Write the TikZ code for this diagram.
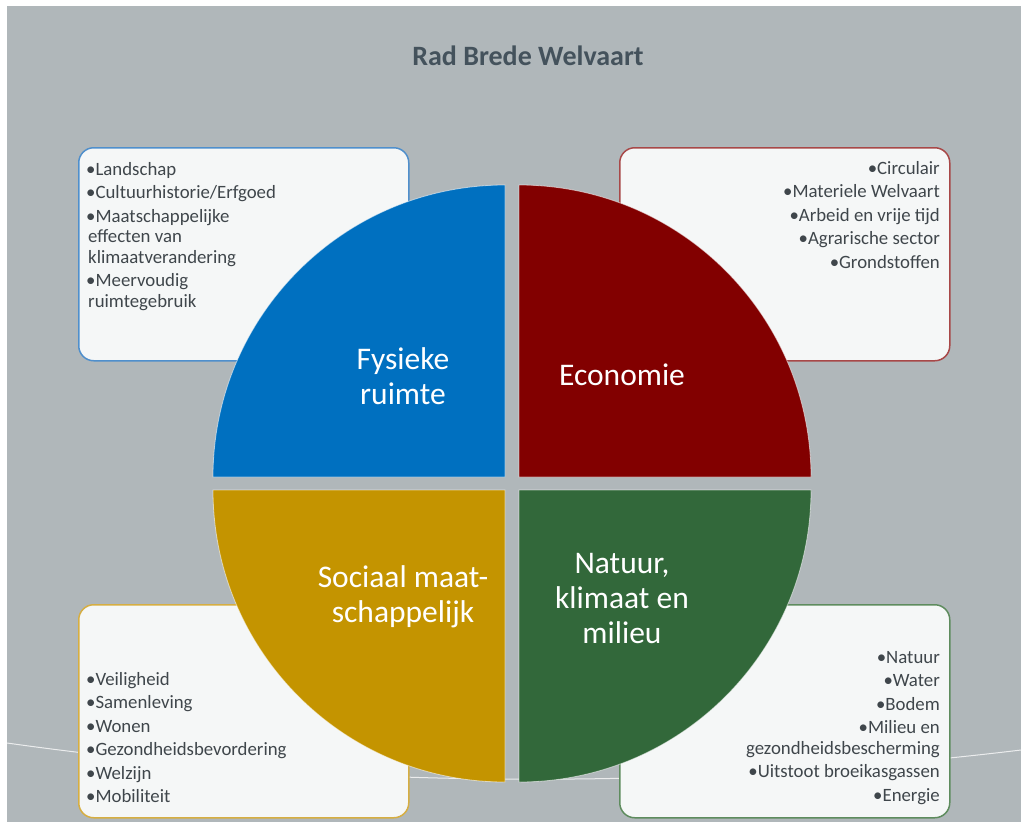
\documentclass[tikz,border=0pt]{standalone}
\usepackage{fontspec}
\setmainfont{Carlito}
\definecolor{bg}{HTML}{B0B7BA}
\definecolor{titlec}{HTML}{44525C}
\definecolor{boxfill}{HTML}{F5F7F7}
\definecolor{txt}{HTML}{3F464B}
\definecolor{qblue}{HTML}{0070C0}
\definecolor{qred}{HTML}{820000}
\definecolor{qgold}{HTML}{C49400}
\definecolor{qgreen}{HTML}{32683A}
\definecolor{bdblue}{HTML}{4F8FCC}
\definecolor{bdred}{HTML}{A84848}
\definecolor{bdgold}{HTML}{D6AE42}
\definecolor{bdgreen}{HTML}{5E8C5E}
\tikzset{
  infobox/.style={draw, fill=boxfill, line width=1.5pt, rounded corners=15pt,
    minimum width=330pt, minimum height=213pt, inner sep=0pt, anchor=north west},
  boxtext/.style={text=txt, inner sep=0pt, font=\fontsize{18.8}{23.5}\selectfont},
  quadlabel/.style={text=white, inner sep=0pt, align=center, font=\fontsize{31.5}{35}\selectfont},
  quadedge/.style={draw=white, draw opacity=0.55, line width=0.8pt}
}
\begin{document}
\begin{tikzpicture}[x=1pt,y=-1pt]
\useasboundingbox (0,0) rectangle (1024,827);
\fill[white] (0,0) rectangle (1024,827);
\fill[bg] (7,6) rectangle (1021,822);
% faint background arc
\draw[white, draw opacity=0.75, line width=1pt] (7,743) .. controls (340,790) and (690,790) .. (1021,750);
% title
\node[text=titlec, font=\bfseries\fontsize{28}{32}\selectfont] (title) at (528,56) {Rad Brede Welvaart};
% boxes
\node[infobox, draw=bdblue] (boxTL) at (78,147) {};
\node[infobox, draw=bdred] (boxTR) at (619,147) {};
\node[infobox, draw=bdgold] (boxBL) at (78,604) {};
\node[infobox, draw=bdgreen] (boxBR) at (619,604) {};
% box texts
\node[boxtext, anchor=north west, align=left] (txtTL) at (86,162)
  {•Landschap\\•Cultuurhistorie/Erfgoed\\•Maatschappelijke\\[-3pt]\hspace*{2pt}effecten van\\[-3pt]\hspace*{2pt}klimaatverandering\\•Meervoudig\\[-3pt]\hspace*{2pt}ruimtegebruik};
\node[boxtext, anchor=north east, align=right] (txtTR) at (940,161)
  {•Circulair\\•Materiele Welvaart\\•Arbeid en vrije tijd\\•Agrarische sector\\•Grondstoffen};
\node[boxtext, anchor=north west, align=left] (txtBL) at (86,672)
  {•Veiligheid\\•Samenleving\\•Wonen\\•Gezondheidsbevordering\\•Welzijn\\•Mobiliteit};
\node[boxtext, anchor=north east, align=right] (txtBR) at (940,651)
  {•Natuur\\•Water\\•Bodem\\•Milieu en\\[-3pt]gezondheidsbescherming\\•Uitstoot broeikasgassen\\•Energie};
% quadrants
\fill[qblue] (505,477) -- (213,477) arc[start angle=180, end angle=270, radius=292] -- cycle;
\fill[qred] (519,477) -- (811,477) arc[start angle=0, end angle=-90, radius=292] -- cycle;
\fill[qgold] (505,490) -- (213,490) arc[start angle=180, end angle=90, radius=292] -- cycle;
\fill[qgreen] (519,490) -- (811,490) arc[start angle=0, end angle=90, radius=292] -- cycle;
\draw[quadedge] (505,477) -- (213,477) arc[start angle=180, end angle=270, radius=292] -- cycle;
\draw[quadedge] (519,477) -- (811,477) arc[start angle=0, end angle=-90, radius=292] -- cycle;
\draw[quadedge] (505,490) -- (213,490) arc[start angle=180, end angle=90, radius=292] -- cycle;
\draw[quadedge] (519,490) -- (811,490) arc[start angle=0, end angle=90, radius=292] -- cycle;
% quadrant labels
\node[quadlabel] (lFys) at (403,376) {Fysieke\\ruimte};
\node[quadlabel] (lEco) at (622,375) {Economie};
\node[quadlabel] (lSoc) at (403,597) {Sociaal maat-\\schappelijk};
\node[quadlabel] (lNat) at (622,598) {Natuur,\\klimaat en\\milieu};
\end{tikzpicture}
\end{document}
